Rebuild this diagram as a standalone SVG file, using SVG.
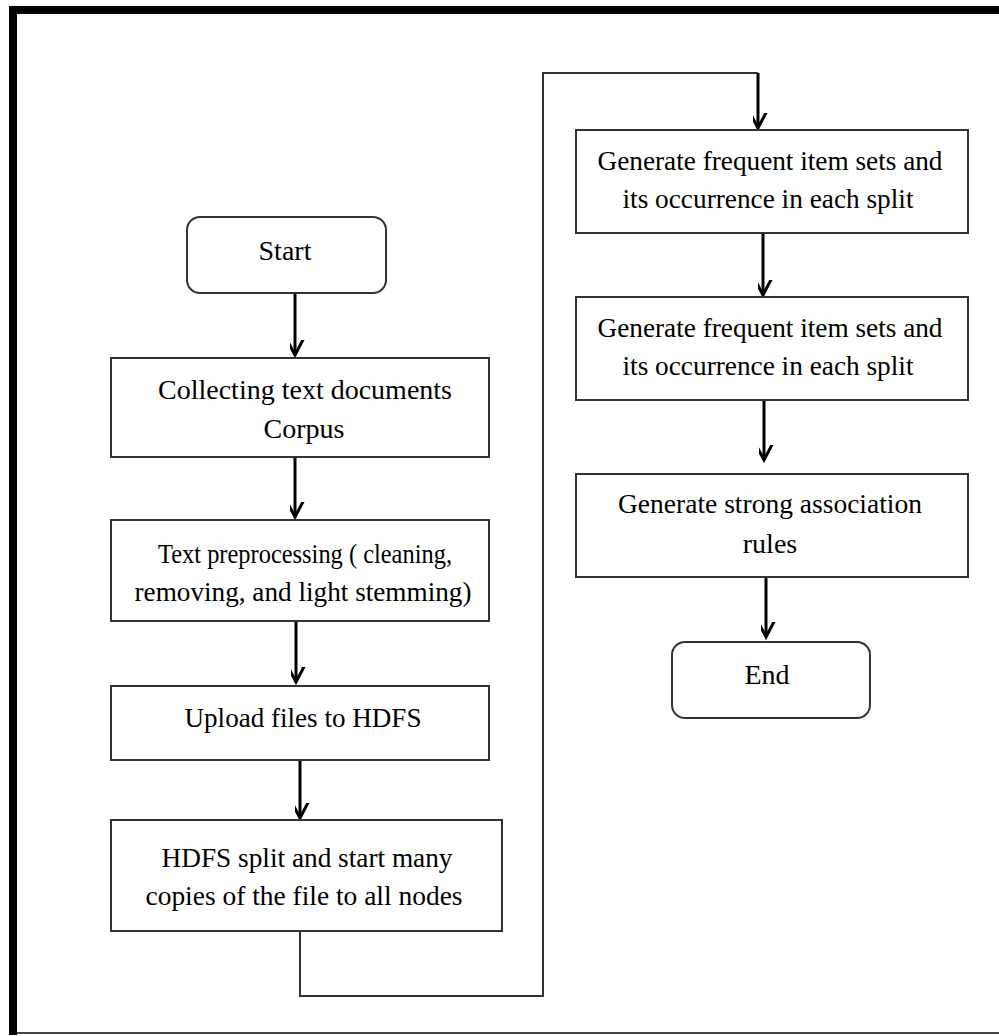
<svg xmlns="http://www.w3.org/2000/svg" width="999" height="1036" viewBox="0 0 999 1036">
<defs>
<style>
.box{fill:#fff;stroke:#333;stroke-width:2}
.t{font-family:"Liberation Serif","Times New Roman",serif;font-size:28px;fill:#000;text-anchor:middle}
.arr{stroke:#000;stroke-width:3;fill:none}
.ln{stroke:#333;stroke-width:2;fill:none}
</style>
<marker id="ah" markerUnits="userSpaceOnUse" markerWidth="30" markerHeight="30" viewBox="-15 -25 30 30" refX="0" refY="0" orient="auto-start-reverse">
<path d="M-11,-21 L0,0 L11,-21" fill="none" stroke="#000" stroke-width="3" transform="rotate(-90)"/>
</marker>
</defs>
<rect x="0" y="0" width="999" height="1036" fill="#fff"/>
<g id="frame">
<rect x="9" y="6" width="990" height="8" fill="#000"/>
<rect x="9" y="6" width="8" height="1029" fill="#000"/>
<rect x="17" y="1032" width="982" height="2" fill="#444"/>
</g>
<g id="connectors">
<line class="arr" x1="295" y1="293" x2="295" y2="355" marker-end="url(#ah)"/>
<line class="arr" x1="295" y1="457" x2="295" y2="517" marker-end="url(#ah)"/>
<line class="arr" x1="296" y1="621" x2="296" y2="682" marker-end="url(#ah)"/>
<line class="arr" x1="300" y1="760" x2="300" y2="818" marker-end="url(#ah)"/>
<polyline class="ln" points="300,931 300,996 543,996 543,73 758,73"/>
<line class="arr" x1="758" y1="73" x2="758" y2="128" marker-end="url(#ah)"/>
<line class="arr" x1="763" y1="233" x2="763" y2="295" marker-end="url(#ah)"/>
<line class="arr" x1="764" y1="400" x2="764" y2="460" marker-end="url(#ah)"/>
<line class="arr" x1="766" y1="577" x2="766" y2="637" marker-end="url(#ah)"/>
</g>
<g id="start">
<rect class="box" x="187" y="217" width="199" height="76" rx="13"/>
<text class="t" x="285" y="260">Start</text>
</g>
<g id="collect">
<rect class="box" x="111" y="358" width="378" height="99"/>
<text class="t" x="305" y="399" textLength="294" lengthAdjust="spacingAndGlyphs">Collecting text documents</text>
<text class="t" x="304" y="438">Corpus</text>
</g>
<g id="preprocess">
<rect class="box" x="111" y="520" width="378" height="101"/>
<text class="t" x="305" y="563" textLength="294" lengthAdjust="spacingAndGlyphs">Text preprocessing ( cleaning,</text>
<text class="t" x="303" y="601" textLength="337" lengthAdjust="spacingAndGlyphs">removing, and light stemming)</text>
</g>
<g id="upload">
<rect class="box" x="111" y="686" width="378" height="74"/>
<text class="t" x="303" y="727" textLength="237" lengthAdjust="spacingAndGlyphs">Upload files to HDFS</text>
</g>
<g id="split">
<rect class="box" x="111" y="820" width="391" height="111"/>
<text class="t" x="307" y="867" textLength="291" lengthAdjust="spacingAndGlyphs">HDFS split and start many</text>
<text class="t" x="304" y="905" textLength="317" lengthAdjust="spacingAndGlyphs">copies of the file to all nodes</text>
</g>
<g id="freq1">
<rect class="box" x="576" y="130" width="392" height="103"/>
<text class="t" x="770" y="170" textLength="345" lengthAdjust="spacingAndGlyphs">Generate frequent item sets and</text>
<text class="t" x="768" y="208" textLength="291" lengthAdjust="spacingAndGlyphs">its occurrence in each split</text>
</g>
<g id="freq2">
<rect class="box" x="576" y="297" width="392" height="103"/>
<text class="t" x="770" y="337" textLength="345" lengthAdjust="spacingAndGlyphs">Generate frequent item sets and</text>
<text class="t" x="768" y="375" textLength="291" lengthAdjust="spacingAndGlyphs">its occurrence in each split</text>
</g>
<g id="rules">
<rect class="box" x="576" y="474" width="392" height="103"/>
<text class="t" x="770" y="513" textLength="304" lengthAdjust="spacingAndGlyphs">Generate strong association</text>
<text class="t" x="770" y="553">rules</text>
</g>
<g id="end">
<rect class="box" x="672" y="642" width="198" height="76" rx="13"/>
<text class="t" x="767" y="684">End</text>
</g>
</svg>
